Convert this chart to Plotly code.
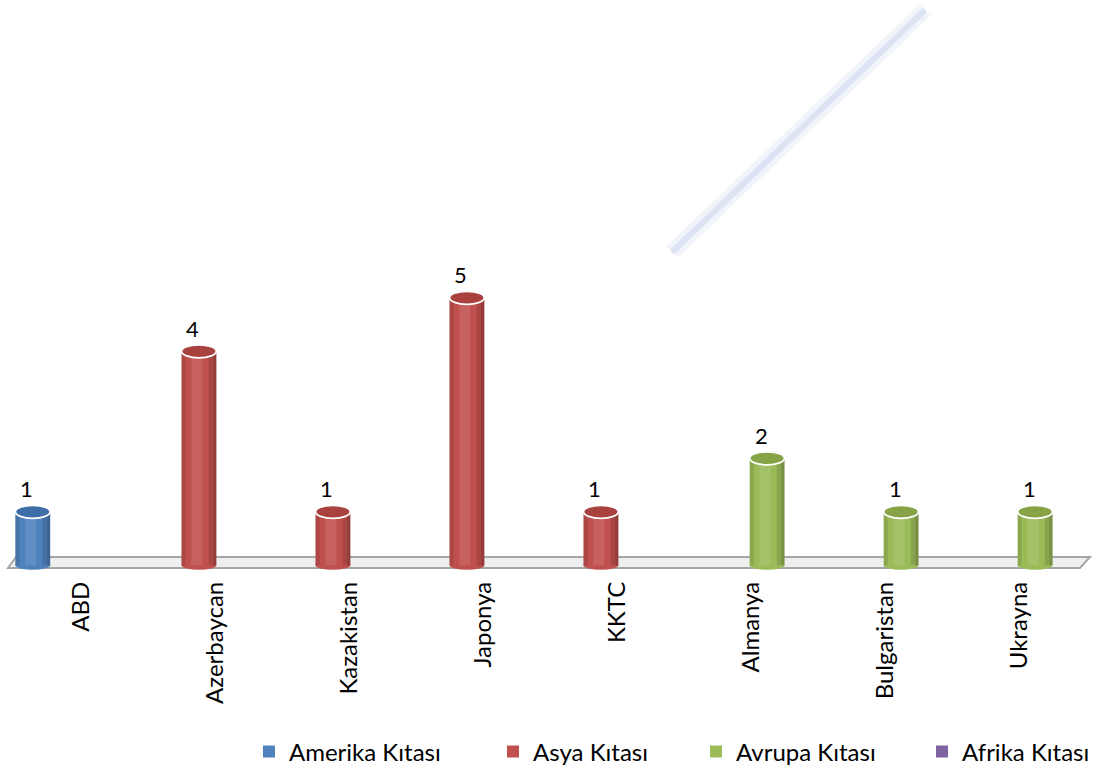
import plotly.graph_objects as go

# ---------------- data ----------------
categories = ["ABD", "Azerbaycan", "Kazakistan", "Japonya", "KKTC", "Almanya", "Bulgaristan", "Ukrayna"]
series_names = ["Amerika Kıtası", "Asya Kıtası", "Avrupa Kıtası", "Afrika Kıtası"]
amerika = [1, None, None, None, None, None, None, None]
asya = [None, 4, 1, 5, 1, None, None, None]
avrupa = [None, None, None, None, None, 2, 1, 1]
afrika = [None, None, None, None, None, None, None, None]
series_values = [amerika, asya, avrupa, afrika]

# ---------------- style ----------------
colors = ["#4F81BD", "#C0504D", "#9BBB59", "#8064A2"]
top_colors = ["#3E6DA8", "#A9423F", "#86A346", "#6C5490"]
FONT = "Lato, 'Open Sans', 'DejaVu Sans', sans-serif"
FS = 24
FS_LBL = 22
W, H = 1096, 776
L, R, T, B = 14, 10, 25, 200
PW, PH = W - L - R, H - T - B
YMIN, YMAX = -0.2, 10.1
BAR_W = 0.26
SLOT = 0.24


def px_x(px):
    return (px - L) / PW


def px_y(py):
    return (H - B - py) / PH


unit_px = PH / (YMAX - YMIN)

fig = go.Figure()
x_idx = list(range(len(categories)))
shapes = []
annotations = []

# background decorative stripe (faint diagonal)
shapes.append(dict(type="line", xref="paper", yref="paper", layer="below",
                   x0=px_x(672), y0=px_y(252), x1=px_x(925), y1=px_y(10),
                   line=dict(color="#F1F4FA", width=16)))
shapes.append(dict(type="line", xref="paper", yref="paper", layer="below",
                   x0=px_x(672), y0=px_y(252), x1=px_x(925), y1=px_y(10),
                   line=dict(color="#DCE4F3", width=6)))

# floor
fx = [px_x(8), px_x(16), px_x(1090), px_x(1080)]
fy = [px_y(568), px_y(557), px_y(557), px_y(568)]
floor_path = "M{},{} L{},{} L{},{} L{},{} Z".format(fx[0], fy[0], fx[1], fy[1], fx[2], fy[2], fx[3], fy[3])
shapes.append(dict(type="path", xref="paper", yref="paper", layer="below", path=floor_path,
                   fillcolor="#EFEFEF", line=dict(color="#A6A6A6", width=2)))

for s, (name, vals) in enumerate(zip(series_names, series_values)):
    off = (s - 1.5) * SLOT - BAR_W / 2
    fig.add_trace(go.Bar(
        x=x_idx, y=vals, name=name, width=BAR_W, offset=off,
        marker=dict(color=colors[s], line=dict(width=0)),
        legend="legend" if s == 0 else "legend%d" % (s + 1),
        hoverinfo="skip",
    ))
    for i, v in enumerate(vals):
        if v is None:
            continue
        c = i + (s - 1.5) * SLOT
        x0, x1 = c - BAR_W / 2, c + BAR_W / 2
        # bottom rounded end
        dhb = 4.5 / unit_px
        shapes.append(dict(type="circle", xref="x", yref="y", x0=x0, x1=x1, y0=-dhb, y1=dhb,
                           fillcolor=colors[s], line=dict(width=0)))
        # cylinder shading strips
        shapes.append(dict(type="rect", xref="x", yref="y", x0=x0, x1=x0 + BAR_W * 0.12, y0=0, y1=v,
                           fillcolor="rgba(0,0,0,0.10)", line=dict(width=0)))
        shapes.append(dict(type="rect", xref="x", yref="y", x0=x0 + BAR_W * 0.28, x1=x0 + BAR_W * 0.6, y0=0, y1=v,
                           fillcolor="rgba(255,255,255,0.10)", line=dict(width=0)))
        shapes.append(dict(type="rect", xref="x", yref="y", x0=x1 - BAR_W * 0.22, x1=x1, y0=0, y1=v,
                           fillcolor="rgba(0,0,0,0.12)", line=dict(width=0)))
        shapes.append(dict(type="rect", xref="x", yref="y", x0=x1 - BAR_W * 0.09, x1=x1, y0=0, y1=v,
                           fillcolor="rgba(0,0,0,0.12)", line=dict(width=0)))
        # top ellipse
        dht = 6.5 / unit_px
        shapes.append(dict(type="circle", xref="x", yref="y", x0=x0, x1=x1, y0=v - dht, y1=v + dht,
                           fillcolor=top_colors[s], line=dict(color="white", width=1.8)))
        annotations.append(dict(x=c, y=v, xref="x", yref="y", text=str(v), showarrow=False,
                                yshift=23, xshift=-6, font=dict(family=FONT, size=FS_LBL, color="#000000")))

legend_text_start = [289, 533, 736, 962]
legends = {}
for s in range(4):
    key = "legend" if s == 0 else "legend%d" % (s + 1)
    legends[key] = dict(
        x=px_x(legend_text_start[s] - 40), y=px_y(752), xanchor="left", yanchor="middle",
        orientation="h", bgcolor="rgba(0,0,0,0)", borderwidth=0,
        font=dict(family=FONT, size=FS, color="#000000"),
    )

fig.update_layout(
    width=W, height=H,
    margin=dict(l=L, r=R, t=T, b=B, autoexpand=False),
    paper_bgcolor="white", plot_bgcolor="rgba(0,0,0,0)",
    barmode="overlay",
    showlegend=True,
    shapes=shapes,
    annotations=annotations,
    font=dict(family=FONT, size=FS, color="#000000"),
    xaxis=dict(range=[-0.5, len(categories) - 0.5], tickvals=x_idx, ticktext=categories,
               tickangle=-90, showgrid=False, zeroline=False, showline=False, ticks="",
               automargin=False,
               tickfont=dict(family=FONT, size=FS, color="#000000"), fixedrange=True),
    yaxis=dict(range=[YMIN, YMAX], showgrid=False, zeroline=False, showline=False,
               automargin=False,
               showticklabels=False, ticks="", fixedrange=True),
    **legends,
)

fig.write_html("out.html", config={"displayModeBar": False},
               post_script="document.body.style.margin='0px';document.body.style.overflow='hidden';")
